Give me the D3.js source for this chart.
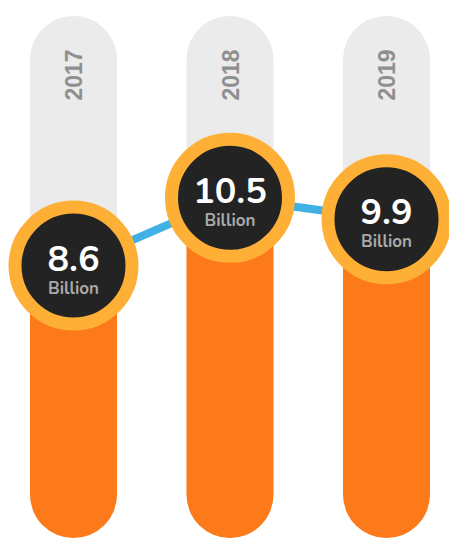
<!DOCTYPE html>
<html>
<head>
<meta charset="utf-8">
<script src="https://cdn.jsdelivr.net/npm/d3@7"></script>
<style>
    body { margin: 0; background: #fff; }
    #chart { width: 449px; height: 538px; overflow: hidden; }
</style>
</head>
<body>
<div id="chart"></div>
<script>
// data
const years = ["2017", "2018", "2019"];
const values = [8.6, 10.5, 9.9];
const unitLabel = "Billion";

const width = 449, height = 538;

const svg = d3.select("#chart").append("svg")
    .attr("width", width)
    .attr("height", height);

// x: one pill per year
const x = d3.scaleBand()
    .domain(years)
    .range([30, 430])
    .paddingInner(0.444);

// y: value -> circle centre
const y = d3.scaleLinear()
    .domain([8, 11])
    .range([287, 180]);

const bw = x.bandwidth();
const pillTop = 16, pillBottom = 538;

const rows = years.map((yr, i) => ({year: yr, value: values[i]}));

// grey background pills
svg.selectAll(".bg")
    .data(rows)
    .enter().append("rect")
    .attr("class", "bg")
    .attr("x", d => x(d.year))
    .attr("y", pillTop)
    .attr("width", bw)
    .attr("height", pillBottom - pillTop)
    .attr("rx", bw / 2)
    .attr("fill", "#ebebeb");

// orange value bars
svg.selectAll(".bar")
    .data(rows)
    .enter().append("rect")
    .attr("class", "bar")
    .attr("x", d => x(d.year))
    .attr("y", d => y(d.value))
    .attr("width", bw)
    .attr("height", d => pillBottom - y(d.value))
    .attr("rx", bw / 2)
    .attr("fill", "#fd7a1b");

// year labels (rotated)
svg.selectAll(".year")
    .data(rows)
    .enter().append("text")
    .attr("class", "year")
    .attr("transform", d => "translate(" + (x(d.year) + bw / 2 + 8.5) + ",75) rotate(-90)")
    .attr("text-anchor", "middle")
    .attr("font-family", "Liberation Sans, Arial, sans-serif")
    .attr("font-weight", "bold")
    .attr("font-size", 23)
    .attr("fill", "#8f8f8f")
    .text(d => d.year);

// connecting line
const line = d3.line()
    .x(d => x(d.year) + bw / 2)
    .y(d => y(d.value));

svg.append("path")
    .datum(rows)
    .attr("d", line)
    .attr("fill", "none")
    .attr("stroke", "#41b0e4")
    .attr("stroke-width", 8);

// value bubbles
const bub = svg.selectAll(".bubble")
    .data(rows)
    .enter().append("g")
    .attr("class", "bubble")
    .attr("transform", d => "translate(" + (x(d.year) + bw / 2) + "," + y(d.value) + ")");

bub.append("circle")
    .attr("r", 58.5)
    .attr("fill", "#232323")
    .attr("stroke", "#fdb035")
    .attr("stroke-width", 13);

bub.append("text")
    .attr("y", 5)
    .attr("text-anchor", "middle")
    .attr("font-family", "Nunito, Lato, 'Open Sans', sans-serif")
    .attr("font-weight", "bold")
    .attr("font-size", 36)
    .attr("fill", "#fff")
    .text(d => d.value);

bub.append("text")
    .attr("y", 28)
    .attr("text-anchor", "middle")
    .attr("font-family", "Nunito, Lato, 'Open Sans', sans-serif")
    .attr("font-weight", "bold")
    .attr("font-size", 17)
    .attr("fill", "#a9a9a9")
    .text(unitLabel);
</script>
</body>
</html>
